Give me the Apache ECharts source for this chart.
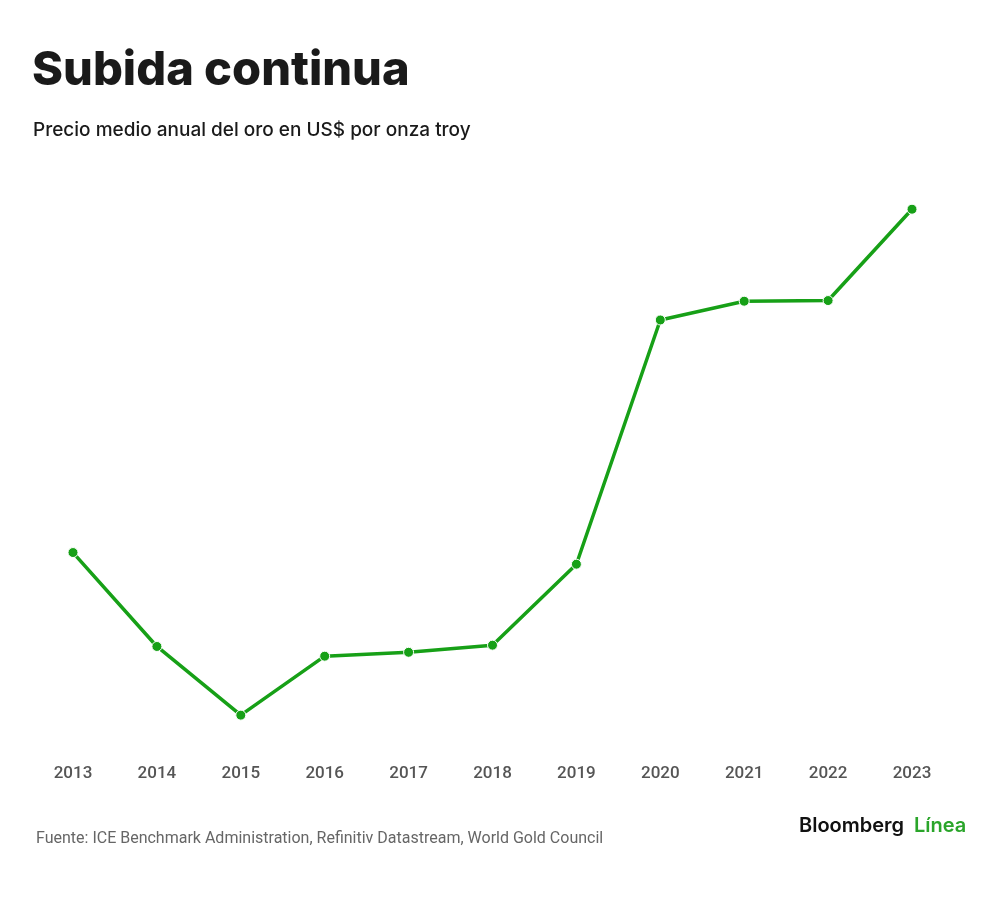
<!DOCTYPE html>
<html><head><meta charset="utf-8">
<script src="https://cdn.jsdelivr.net/npm/echarts@6/dist/echarts.min.js"></script>
<style>html,body{margin:0;padding:0;background:#fff}#c{width:1000px;height:914px}</style>
</head><body><div id="c"></div>
<script>
const years = ['2013','2014','2015','2016','2017','2018','2019','2020','2021','2022','2023'];
const goldPrice = [1411, 1266, 1160, 1251, 1257, 1268, 1393, 1770, 1799, 1800, 1941];
const titleText = 'Subida continua';
const subtitleText = 'Precio medio anual del oro en US$ por onza troy';
const sourceText = 'Fuente: ICE Benchmark Administration, Refinitiv Datastream, World Gold Council';

const chart = echarts.init(document.getElementById('c'), null, {renderer:'canvas'});
chart.setOption({
  backgroundColor:'#fff',
  animation:false,
  title:[
    {text:titleText, left:27, top:42, textStyle:{fontFamily:'Inter', fontWeight:800, fontSize:47, color:'#1a1a1a'}},
    {text:subtitleText, left:28, top:116, textStyle:{fontFamily:'Inter', fontWeight:500, fontSize:19, color:'#1a1a1a'}},
    {text:sourceText, left:31, top:826, textStyle:{fontFamily:'Roboto', fontWeight:'normal', fontSize:16, color:'#666'}}
  ],
  graphic:[
    {type:'text', left:799, top:816, style:{text:'Bloomberg', font:'600 20px Inter', fill:'#111'}},
    {type:'text', left:914, top:816, style:{text:'Línea', font:'600 20px Inter', fill:'#2aa52a'}}
  ],
  grid:{left:73, right:88, top:171, bottom:160},
  xAxis:{type:'category', data:years, boundaryGap:false,
    axisLine:{show:false}, axisTick:{show:false}, splitLine:{show:false},
    axisLabel:{margin:11, fontFamily:'Roboto', fontWeight:500, fontSize:17, color:'#555'}},
  yAxis:{type:'value', min:1100, max:2000, show:false, splitLine:{show:false}},
  series:[{type:'line', data:goldPrice, symbol:'circle', symbolSize:10,
    lineStyle:{color:'#17a017', width:3.5},
    itemStyle:{color:'#17a017', borderColor:'#fff', borderWidth:1}}]
});
</script></body></html>
